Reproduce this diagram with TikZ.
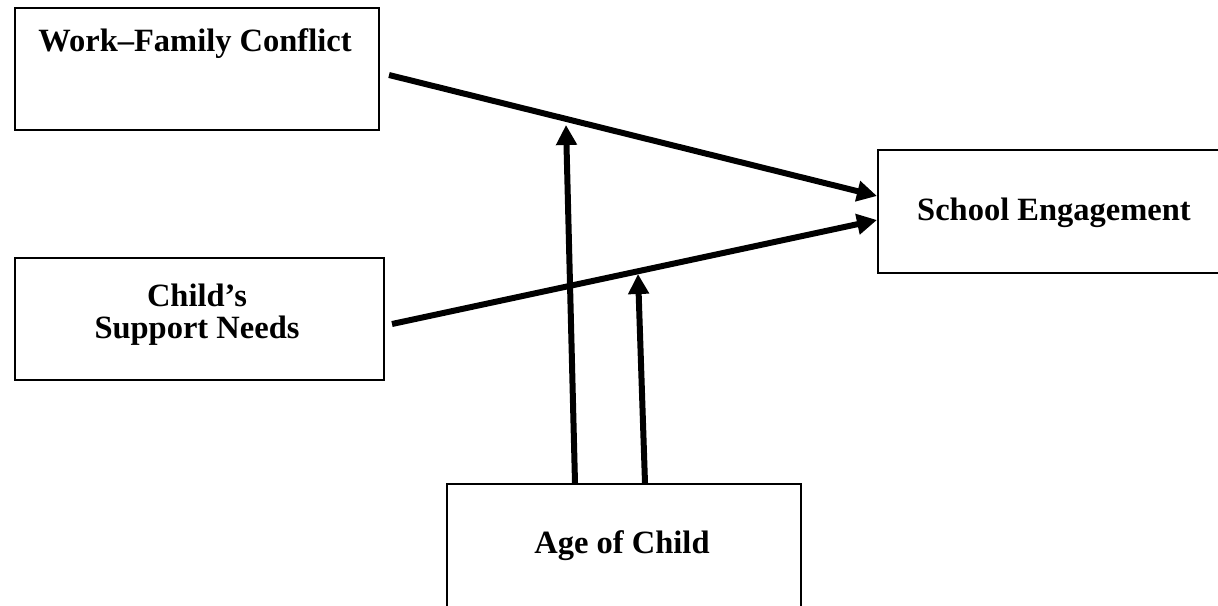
\documentclass[tikz,border=0pt]{standalone}
\usepackage{fontspec}
\setmainfont{Liberation Serif}
\usetikzlibrary{arrows.meta,calc}
\begin{document}
\begin{tikzpicture}[x=1pt,y=-1pt,
  box/.style={draw,line width=2pt,rectangle,inner sep=0pt,anchor=north west},
  lbl/.style={font=\fontsize{32.5}{32}\selectfont\bfseries,inner sep=0pt,align=center},
  arr/.style={line width=6pt,-{Triangle[length=20pt,width=20pt]}}]
\clip (0,0) rectangle (1218,605);
\node[box,minimum width=364pt,minimum height=122pt] (wfc) at (14,7) {};
\node[box,minimum width=380pt,minimum height=123pt] (se) at (877,149) {};
\node[box,minimum width=369pt,minimum height=122pt] (csn) at (14,257) {};
\node[box,minimum width=354pt,minimum height=160pt] (age) at (446,483) {};
\node[lbl,anchor=base] (wfct) at (195,51) {Work–Family Conflict};
\node[lbl,anchor=base] (set) at (1054,220) {School Engagement};
\node[lbl,anchor=center] (csnt) at (197,314.5) {Child’s\\Support Needs};
\node[lbl,anchor=base] (aget) at (622,553) {Age of Child};
\coordinate (a1s) at ($(wfc.north east)+(9,68)$);
\coordinate (a1e) at ($(se.north west)+(0,47)$);
\coordinate (a2s) at ($(csn.north east)+(7,67)$);
\coordinate (a2e) at ($(se.north west)+(0,71)$);
\coordinate (m1s) at ($(age.north west)+(129,0)$);
\coordinate (m1e) at (566,125);
\coordinate (m2s) at ($(age.north west)+(199,0)$);
\coordinate (m2e) at (638,274);
\draw[arr] (a1s) -- (a1e);
\draw[arr] (a2s) -- (a2e);
\draw[arr] (m1s) -- (m1e);
\draw[arr] (m2s) -- (m2e);
\end{tikzpicture}
\end{document}
